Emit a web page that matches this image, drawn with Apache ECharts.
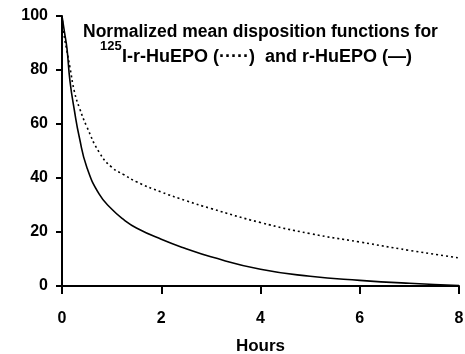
<!DOCTYPE html>
<html>
<head>
<meta charset="utf-8">
<script src="https://cdn.jsdelivr.net/npm/echarts@6/dist/echarts.min.js"></script>
<style>
html,body{margin:0;padding:0;background:#fff;}
#chart{width:465px;height:354px;}
</style>
</head>
<body>
<div id="chart"></div>
<script>
const hours = [0, 0.05, 0.1, 0.16, 0.25, 0.35, 0.5, 0.75, 1, 1.25, 1.5, 2, 2.5, 3, 4, 5, 6, 7, 8];
const rHuEPO = [100, 94, 88, 76, 65, 55, 44, 34, 28.5, 24.5, 21.5, 17.3, 13.8, 10.8, 6.2, 3.6, 2.1, 1.0, 0.2];
const i125HuEPO = [100, 92, 87, 81, 72, 66, 59, 49.5, 44, 41.2, 38.6, 34.8, 31.6, 28.7, 23.5, 19.4, 16.3, 13.2, 10.4];
const xTicks = [0, 2, 4, 6, 8];
const yTicks = [0, 20, 40, 60, 80, 100];
const titleLine1 = 'Normalized mean disposition functions for';
const titleSup = '125';
const titleLine2 = 'I-r-HuEPO (·····)  and r-HuEPO (—)';

const FONT = '"Liberation Sans", Arial, Helvetica, sans-serif';
const chart = echarts.init(document.getElementById('chart'), null, {renderer: 'canvas'});
const pairs = (ys) => hours.map((h, i) => [h, ys[i]]);

chart.setOption({
  animation: false,
  backgroundColor: '#fff',
  grid: {left: 62, right: 6, top: 16, bottom: 68, containLabel: false, outerBoundsMode: 'none'},
  xAxis: {
    type: 'value', min: 0, max: 8, interval: 2,
    name: 'Hours', nameLocation: 'middle', nameGap: 52,
    nameTextStyle: {color: '#000', fontFamily: FONT, fontWeight: 'bold', fontSize: 17},
    axisLine: {show: true, onZero: false, lineStyle: {color: '#000', width: 2}},
    axisTick: {show: true, length: 8, lineStyle: {color: '#000', width: 2}},
    axisLabel: {color: '#000', fontFamily: FONT, fontWeight: 'bold', fontSize: 16, margin: 25,
      formatter: (v) => xTicks.includes(v) ? String(v) : ''},
    splitLine: {show: false}
  },
  yAxis: {
    type: 'value', min: 0, max: 100, interval: 20,
    axisLine: {show: true, onZero: false, lineStyle: {color: '#000', width: 2}},
    axisTick: {show: true, length: 6, lineStyle: {color: '#000', width: 2}},
    axisLabel: {color: '#000', fontFamily: FONT, fontWeight: 'bold', fontSize: 16, margin: 14,
      formatter: (v) => yTicks.includes(v) ? String(v) : ''},
    splitLine: {show: false}
  },
  series: [
    {
      name: '125I-r-HuEPO', type: 'line', data: pairs(i125HuEPO),
      showSymbol: false, smooth: 0.5,
      lineStyle: {color: '#000', width: 1.6, type: [2, 3]}
    },
    {
      name: 'r-HuEPO', type: 'line', data: pairs(rHuEPO),
      showSymbol: false, smooth: 0.5,
      lineStyle: {color: '#000', width: 1.6, type: 'solid'}
    }
  ],
  graphic: [
    {type: 'text', left: 83, top: 23,
      style: {text: titleLine1, fill: '#000', font: 'bold 17.5px ' + FONT}},
    {type: 'text', left: 100, top: 40,
      style: {text: titleSup, fill: '#000', font: 'bold 13px ' + FONT}},
    {type: 'text', left: 122, top: 48,
      style: {text: titleLine2, fill: '#000', font: 'bold 18px ' + FONT}}
  ]
});
</script>
</body>
</html>
